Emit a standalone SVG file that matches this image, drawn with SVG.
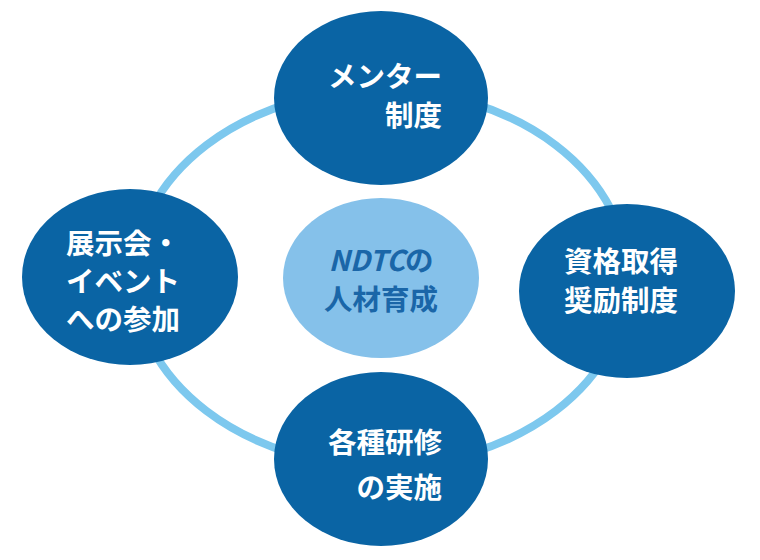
<svg xmlns="http://www.w3.org/2000/svg" width="760" height="560" viewBox="0 0 760 560">
<style>
.n{fill:#0a64a4}
.t{fill:#fff;font-family:"Noto Sans CJK JP","Noto Sans",sans-serif;font-weight:bold;font-size:28.5px}
.c{fill:#1a66a8;font-family:"Noto Sans CJK JP","Noto Sans",sans-serif;font-weight:bold;font-size:28.5px}
</style>
<rect width="760" height="560" fill="#fff"/>
<g id="connectors"><ellipse cx="381" cy="278" rx="247" ry="188" fill="none" stroke="#7dc8ee" stroke-width="8"/></g>
<g id="center"><ellipse cx="381" cy="278" rx="98" ry="80" fill="#85c1ea"/>
<text class="c" text-anchor="middle" x="381" y="271"><tspan font-style="italic">NDTC</tspan>の</text>
<text class="c" text-anchor="middle" x="381" y="310">人材育成</text></g>
<g id="top"><ellipse class="n" cx="381" cy="98" rx="107" ry="87"/>
<text class="t" text-anchor="end" x="442" y="87">メンター</text><text class="t" text-anchor="end" x="442" y="126">制度</text></g>
<g id="left"><ellipse class="n" cx="130" cy="277" rx="108" ry="88"/>
<text class="t" x="66" y="254">展示会・</text><text class="t" x="66" y="292">イベント</text><text class="t" x="66" y="330">への参加</text></g>
<g id="right"><ellipse class="n" cx="627" cy="291" rx="108" ry="87"/>
<text class="t" x="564" y="272">資格取得</text><text class="t" x="564" y="311">奨励制度</text></g>
<g id="bottom"><ellipse class="n" cx="381" cy="459" rx="107" ry="87"/>
<text class="t" text-anchor="end" x="442" y="453">各種研修</text><text class="t" text-anchor="end" x="442" y="498">の実施</text></g>
</svg>
